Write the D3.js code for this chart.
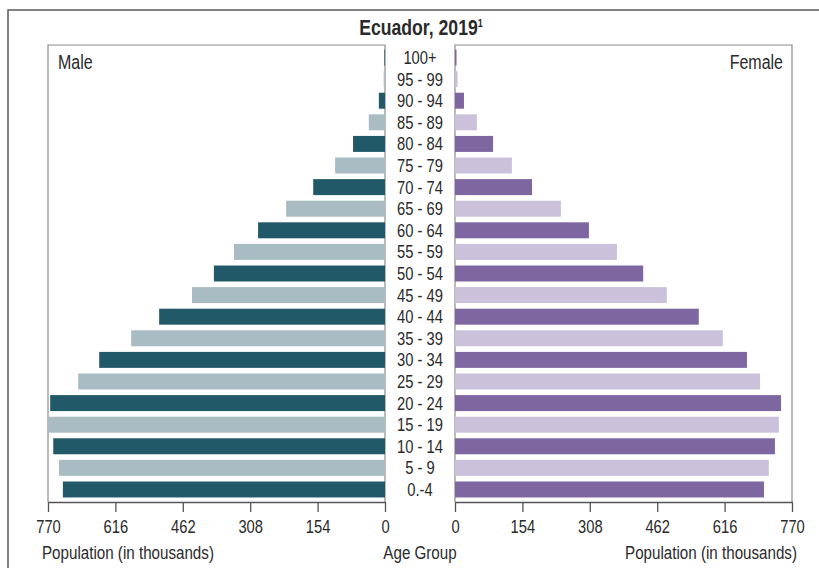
<!DOCTYPE html>
<html>
<head>
<meta charset="utf-8">
<script src="https://cdn.jsdelivr.net/npm/d3@7"></script>
<style>
  html, body { margin: 0; padding: 0; background: #fff; }
  svg { display: block; }
  text { font-family: "Liberation Sans", Arial, sans-serif; fill: #2a2a2a; }
</style>
</head>
<body>
<svg id="chart" width="819" height="568"></svg>
<script>
// ---- data (thousands) ----
const ageGroups = ["100+","95 - 99","90 - 94","85 - 89","80 - 84","75 - 79","70 - 74","65 - 69","60 - 64","55 - 59","50 - 54","45 - 49","40 - 44","35 - 39","30 - 34","25 - 29","20 - 24","15 - 19","10 - 14","5 - 9","0.-4"];
const maleValues   = [1.5, 3, 14, 37, 73, 114, 164, 226, 290, 345, 391, 441, 516, 580, 653, 701, 765, 769, 758, 745, 736];
const femaleValues = [3.5, 6, 20.5, 50, 87, 130, 176, 242, 306, 370, 430, 484, 557, 612, 667, 697, 745, 740, 731, 717, 706];
const tickValues = [0, 154, 308, 462, 616, 770];
const titleText = "Ecuador, 2019";
const titleNote = "1";

const colors = {
  maleDark: "#225968", maleLight: "#a9bcc4",
  femaleDark: "#7e66a1", femaleLight: "#cbc1db"
};
const NARROW = 0.82;

const svg = d3.select("#chart");

function narrowText(x, y, str, size, anchor) {
  return svg.append("text")
    .attr("transform", `translate(${x},${y}) scale(${NARROW},1)`)
    .attr("text-anchor", anchor || "start")
    .attr("font-size", size)
    .text(str);
}

// outer frame
svg.append("rect").attr("x", 8).attr("y", 10).attr("width", 840).attr("height", 620)
  .attr("fill", "none").attr("stroke", "#5a5a5a").attr("stroke-width", 1.5);

const plotTop = 45, plotBottom = 502;
const y = d3.scaleBand().domain(ageGroups).range([plotTop, plotBottom]).paddingInner(0.26).paddingOuter(0.21);
const xL = d3.scaleLinear().domain([0, 770]).range([385, 48]);
const xR = d3.scaleLinear().domain([0, 770]).range([455, 792]);

// plot frames
[[48, 385], [455, 792]].forEach(([a, b]) => {
  svg.append("path")
    .attr("d", `M${a},${plotBottom}V${plotTop}H${b}V${plotBottom}`)
    .attr("fill", "none").attr("stroke", "#8c8c8c").attr("stroke-width", 1.2);
});

// bars
const idx = d3.range(ageGroups.length);
svg.append("g").selectAll("rect").data(idx).join("rect")
  .attr("x", i => xL(maleValues[i]))
  .attr("y", i => y(ageGroups[i]))
  .attr("width", i => xL(0) - xL(maleValues[i]))
  .attr("height", y.bandwidth())
  .attr("fill", i => (ageGroups.length - 1 - i) % 2 === 0 ? colors.maleDark : colors.maleLight);

svg.append("g").selectAll("rect").data(idx).join("rect")
  .attr("x", xR(0))
  .attr("y", i => y(ageGroups[i]))
  .attr("width", i => xR(femaleValues[i]) - xR(0))
  .attr("height", y.bandwidth())
  .attr("fill", i => (ageGroups.length - 1 - i) % 2 === 0 ? colors.femaleDark : colors.femaleLight);

// age labels
svg.append("g").selectAll("text").data(ageGroups).join("text")
  .attr("transform", d => `translate(420,${y(d) + y.bandwidth() / 2}) scale(${NARROW},1)`)
  .attr("dy", "0.36em")
  .attr("text-anchor", "middle")
  .attr("font-size", 18)
  .text(d => d);

// axes
function styleAxis(g) {
  g.select(".domain").attr("stroke", "#555").attr("stroke-width", 1.3);
  g.selectAll(".tick line").attr("stroke", "#555").attr("stroke-width", 1.3);
  g.selectAll(".tick text").attr("font-size", 18).attr("fill", "#444")
    .attr("font-family", "'Liberation Sans', Arial, sans-serif")
    .attr("y", 0).attr("dy", 0)
    .attr("transform", `translate(0,31) scale(${NARROW},1)`);
}
svg.append("g").attr("transform", `translate(0,${plotBottom})`)
  .call(d3.axisBottom(xL).tickValues(tickValues).tickSize(10).tickSizeOuter(0).tickFormat(d3.format("d")))
  .call(styleAxis);
svg.append("g").attr("transform", `translate(0,${plotBottom})`)
  .call(d3.axisBottom(xR).tickValues(tickValues).tickSize(10).tickSizeOuter(0).tickFormat(d3.format("d")))
  .call(styleAxis);

// axis titles
narrowText(42, 559, "Population (in thousands)", 18.5);
narrowText(797, 559, "Population (in thousands)", 18.5, "end");
narrowText(420, 559, "Age Group", 18.5, "middle");

// panel labels
narrowText(58, 69, "Male", 19.5);
narrowText(783, 69, "Female", 19.5, "end");

// title
const t = narrowText(421, 35, null, 21.5, "middle")
  .attr("font-weight", "bold").attr("fill", "#1a1a1a");
t.append("tspan").text(titleText);
t.append("tspan").attr("font-size", 11).attr("dy", -8).text(titleNote);
</script>
</body>
</html>
